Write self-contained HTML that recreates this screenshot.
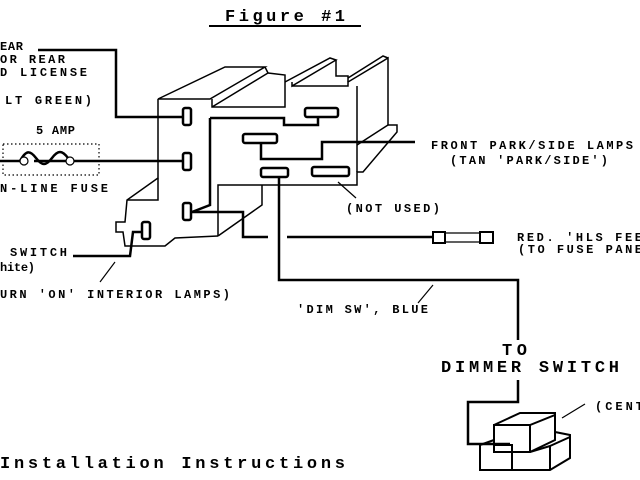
<!DOCTYPE html>
<html><head><meta charset="utf-8"><style>
html,body{margin:0;padding:0;background:#fff;}
svg{display:block}
text{font-family:"Liberation Mono",monospace;fill:#000;font-weight:bold}
</style></head><body>
<svg width="640" height="480" viewBox="0 0 640 480" xmlns="http://www.w3.org/2000/svg">
<g fill="none" stroke="#000" stroke-width="1.5" stroke-linejoin="miter">
<line x1="209" y1="26" x2="361" y2="26" stroke-width="2"/>
<path d="M158,99 L225,67 L265,67 L210,99 Z"/>
<path d="M212,107 L268,73 L265,67"/>
<path d="M158,99 L158,178 L127,200 L125,222 L116,222 L116,232 L123,232 L125,246 L165,246 L175,238 L218,236"/>
<path d="M158,178 L158,200 L127,200"/>
<path d="M268,73 L285,75 L285,107 L212,107 L212,99"/>
<path d="M285,82 L330,58 L336,60 L292,86 L292,82"/>
<path d="M292,86 L348,86 L348,82 L388,58 L388,125 L397,125 L397,132 L363,172 L357,172 L357,185 L218,185 L218,236"/>
<path d="M336,60 L336,76 L348,76 L348,82"/>
<path d="M357,86 L357,172"/>
<path d="M388,58 L383,56 L348,78"/>
<path d="M388,125 L357,145"/>
<path d="M262,185 L262,205 L218,236"/>
<rect x="305" y="108" width="33" height="9" stroke-width="2.5" rx="2"/>
<rect x="243" y="134" width="34" height="9" stroke-width="2.5" rx="2"/>
<rect x="261" y="168" width="27" height="9" stroke-width="2.5" rx="2"/>
<rect x="312" y="167" width="37" height="9" stroke-width="2.5" rx="2"/>
<rect x="183" y="108" width="8" height="17" stroke-width="2.5" rx="2"/>
<rect x="183" y="153" width="8" height="17" stroke-width="2.5" rx="2"/>
<rect x="183" y="203" width="8" height="17" stroke-width="2.5" rx="2"/>
<rect x="142" y="222" width="8" height="17" stroke-width="2.5" rx="2"/>
</g>
<g fill="none" stroke="#000" stroke-width="2.5">
<path d="M38,50 L116,50 L116,117 L183,117"/>
<path d="M0,161 L20,161 M34,161 L183,161"/>
<path d="M20,161 C26,150 30,150 36,158 C42,166 46,166 52,158 C58,150 62,150 68,158"/>
<path d="M210,118 L210,205 L192,212 M210,118 L284,118 L284,125 L318,125 L318,117"/>
<path d="M261,143 L261,159 L322,159 L322,142 L415,142"/>
<path d="M192,212 L243,212 L243,237 L268,237 M287,237 L432,237"/>
<path d="M279,177 L279,280 L518,280 L518,340"/>
<path d="M518,380 L518,402 L468,402 L468,444 L510,444"/>
<path d="M73,256 L130,256 L133,232 L142,232"/>
</g>
<g fill="none" stroke="#000" stroke-width="1.2">
<rect x="3" y="144" width="96" height="31" stroke-dasharray="1.5,2.5"/>
<circle cx="24" cy="161" r="4" fill="#fff"/>
<circle cx="70" cy="161" r="4" fill="#fff"/>
<line x1="100" y1="282" x2="115" y2="262"/>
<line x1="338" y1="182" x2="356" y2="198"/>
<line x1="433" y1="285" x2="418" y2="303"/>
<line x1="562" y1="418" x2="585" y2="404"/>
<rect x="433" y="232" width="12" height="11" stroke-width="2"/>
<rect x="480" y="232" width="13" height="11" stroke-width="2"/>
<line x1="445" y1="233" x2="480" y2="233"/><line x1="445" y1="242" x2="480" y2="242"/>
<g stroke-width="2">
<path d="M494,425 L530,425 L555,415 L555,440 L530,452 L494,452 Z"/>
<path d="M494,425 L520,413 L555,413 L555,415 M530,425 L530,452"/>
<path d="M494,440 L480,445 L480,470 L512,470 L512,445 L494,445"/>
<path d="M512,470 L550,470 L570,458 L570,435 L555,432"/>
<path d="M550,470 L550,446 L530,452 M550,446 L570,437"/>
</g>
</g>
<text x="225" y="21" font-size="17" textLength="120" lengthAdjust="spacing">Figure #1</text>
<g font-size="12">
<text x="0" y="50" textLength="23" lengthAdjust="spacing">EAR</text>
<text x="0" y="63" textLength="65" lengthAdjust="spacing">OR REAR</text>
<text x="0" y="76" textLength="87" lengthAdjust="spacing">D LICENSE</text>
<text x="5" y="104" textLength="87" lengthAdjust="spacing">LT GREEN)</text>
<text x="36" y="134" textLength="39" lengthAdjust="spacing">5 AMP</text>
<text x="0" y="192" textLength="108" lengthAdjust="spacing">N-LINE FUSE</text>
<text x="10" y="256" textLength="57" lengthAdjust="spacing">SWITCH</text>
<text x="0" y="271" textLength="35" lengthAdjust="spacing">hite)</text>
<text x="0" y="298" textLength="230" lengthAdjust="spacing">URN 'ON' INTERIOR LAMPS)</text>
<text x="431" y="149" textLength="202" lengthAdjust="spacing">FRONT PARK/SIDE LAMPS</text>
<text x="450" y="164" textLength="158" lengthAdjust="spacing">(TAN 'PARK/SIDE')</text>
<text x="346" y="212" textLength="94" lengthAdjust="spacing">(NOT USED)</text>
<text x="517" y="241" textLength="125" lengthAdjust="spacing">RED. 'HLS FEE</text>
<text x="518" y="253" textLength="124" lengthAdjust="spacing">(TO FUSE PANE</text>
<text x="297" y="313" textLength="131" lengthAdjust="spacing">'DIM SW', BLUE</text>
<text x="595" y="410" textLength="48" lengthAdjust="spacing">(CENT</text>
</g>
<text x="502" y="355" font-size="17" textLength="25" lengthAdjust="spacing">TO</text>
<text x="441" y="372" font-size="17" textLength="178" lengthAdjust="spacing">DIMMER SWITCH</text>
<text x="0" y="468" font-size="17" textLength="345" lengthAdjust="spacing">Installation Instructions</text>
</svg>
</body></html>
